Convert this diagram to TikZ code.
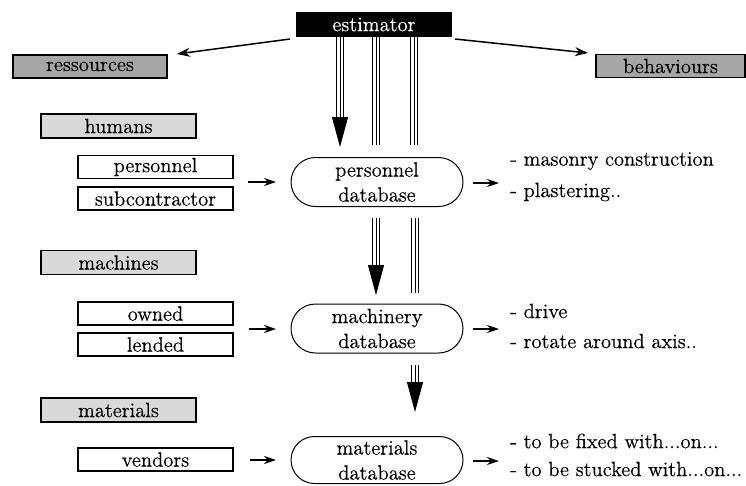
\documentclass[tikz,border=0pt]{standalone}
\usepackage{fontspec}
\IfFontExistsTF{lmroman12-regular.otf}
  {\newfontfamily\diagfont{lmroman12-regular.otf}[FakeBold=0.4]}
  {\newcommand\diagfont{\rmfamily}}
\def\diagsize{20.6}
\usetikzlibrary{arrows.meta,shapes.misc,calc}
\begin{document}
\begin{tikzpicture}[x=1pt,y=-1pt,
  every node/.style={font=\diagfont\fontsize{\diagsize}{25}\selectfont, inner sep=0pt},
  estbox/.style={fill=black,text=white,minimum width=156pt,minimum height=25pt},
  darkbox/.style={draw,line width=1.5pt,fill=gray!70,minimum height=23pt},
  lightbox/.style={draw,line width=1.3pt,fill=gray!30,minimum width=155pt,minimum height=24pt},
  plainbox/.style={draw,line width=1.3pt,minimum width=155pt,minimum height=23pt},
  dbbox/.style={draw,rounded rectangle,line width=1pt,minimum width=172pt,minimum height=49pt,align=center},
  itemtext/.style={anchor=west},
  sarrow/.style={line width=1.2pt,-{Stealth[length=12pt,width=8pt]}},
  triple/.style={line width=0.8pt, preaction={draw,line width=8pt}, preaction={draw,white,line width=6.4pt}},
  bigarrow/.style={-{Triangle[length=30pt,width=16pt]},line width=0.8pt},
]
\useasboundingbox (0,0) rectangle (746,485);

% top row
\node[estbox] (est) at (374,24.5) {estimator};
\node[darkbox,minimum width=154pt] (res) at (90,66.5) {ressources};
\node[darkbox,minimum width=149pt] (beh) at (670.5,66) {behaviours};

\coordinate (eL) at (290,39);
\coordinate (rT) at (177,54);
\coordinate (eR) at (455,39);
\coordinate (bT) at (588,53);
\draw[line width=1.5pt,-{Stealth[length=13pt,width=9pt]}] (eL) -- (rT);
\draw[line width=1.5pt,-{Stealth[length=13pt,width=9pt]}] (eR) -- (bT);

% left column
\node[lightbox] (hum) at (118.5,126) {humans};
\node[plainbox] (pers) at (155.5,167) {personnel};
\node[plainbox] (sub) at (155.5,198.5) {subcontractor};
\node[lightbox] (mach) at (118.5,262.5) {machines};
\node[plainbox] (own) at (155.5,313.5) {owned};
\node[plainbox] (lend) at (155.5,344.5) {lended};
\node[lightbox] (mat) at (118.5,410) {materials};
\node[plainbox] (vend) at (155.5,459.5) {vendors};

% databases
\node[dbbox] (pdb) at (377,182) {personnel\\database};
\node[dbbox] (mdb) at (377,328.5) {machinery\\database};
\node[dbbox,minimum height=47pt] (tdb) at (377,460) {materials\\database};

% small arrows
\coordinate (a1s) at (248,182);  \coordinate (a1e) at (276,182);
\coordinate (a2s) at (249,329);  \coordinate (a2e) at (276,329);
\coordinate (a3s) at (250,460);  \coordinate (a3e) at (276,460);
\coordinate (b1s) at (473,183);  \coordinate (b1e) at (499,183);
\coordinate (b2s) at (473,329);  \coordinate (b2e) at (499,329);
\coordinate (b3s) at (473,461);  \coordinate (b3e) at (499,461);
\foreach \p in {a1,a2,a3,b1,b2,b3}{\draw[sarrow] (\p s) -- (\p e);}

% behaviour texts
\node[itemtext] (t1) at (510,161) {- masonry construction};
\node[itemtext] (t2) at (510,192) {- plastering..};
\node[itemtext] (t3) at (510,311) {- drive};
\node[itemtext] (t4) at (510,341) {- rotate around axis..};
\node[itemtext] (t5) at (510,441) {- to be fixed with...on...};
\node[itemtext] (t6) at (510,469) {- to be stucked with...on...};

% triple lines from estimator
\draw[triple] (340,37) -- (340,118);
\draw[bigarrow] (340,116) -- (340,147);
\draw[triple] (376,37) -- (376,145);
\draw[triple] (414,37) -- (414,145);

% below personnel database
\draw[triple] (376,218) -- (376,267);
\draw[bigarrow] (376,265) -- (376,295);
\draw[triple] (415,218) -- (415,293);

% below machinery database
\draw[triple] (415,365) -- (415,384);
\draw[bigarrow] (415,382) -- (415,412);
\end{tikzpicture}
\end{document}
